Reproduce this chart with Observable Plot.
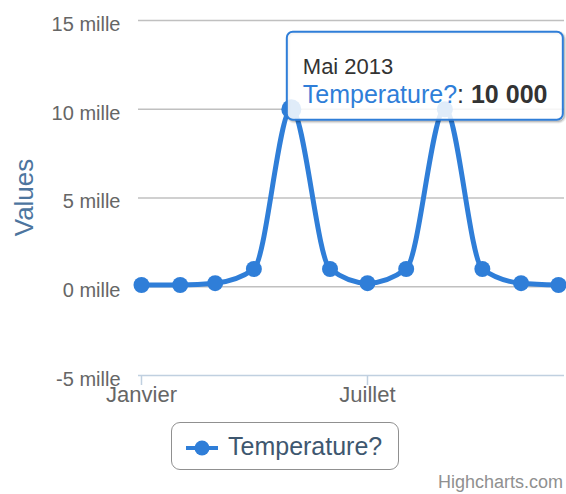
<!DOCTYPE html>
<html><head><meta charset="utf-8">
<script src="https://cdn.jsdelivr.net/npm/d3@7"></script>
<script src="https://cdn.jsdelivr.net/npm/@observablehq/plot@0.6"></script>
<style>
body{margin:0;background:#fff;font-family:"Liberation Sans",Arial,sans-serif;}
#wrap{position:relative;width:566px;height:494px;overflow:hidden;background:#fff;}
#wrap svg.plot{position:absolute;left:0;top:0;}
#legend{position:absolute;left:171px;top:422px;width:228px;height:48px;box-sizing:border-box;border:1.5px solid #909090;border-radius:9px;background:#fff;}
#legend svg{position:absolute;left:13px;top:16px;}
#legend span{position:absolute;left:56px;top:10px;font-size:25px;line-height:27px;color:#3e576f;white-space:nowrap;}
#credits{position:absolute;right:3px;top:473px;font-size:18px;line-height:18px;color:#909090;}
</style></head><body><div id="wrap"></div>
<script>
const months = ["2013-01-01","2013-02-01","2013-03-01","2013-04-01","2013-05-01","2013-06-01","2013-07-01","2013-08-01","2013-09-01","2013-10-01","2013-11-01","2013-12-01"];
const values = [100, 100, 200, 1000, 10000, 1000, 200, 1000, 10000, 1000, 200, 100];
const monthNames = ["Janvier","Février","Mars","Avril","Mai","Juin","Juillet","Août","Septembre","Octobre","Novembre","Décembre"];
const yTicks = [-5000, 0, 5000, 10000, 15000];
const xTickMonths = [0, 6];
const seriesName = "Temperature?";
const yTitle = "Values";
const hoverIndex = 4;
const credits = "Highcharts.com";

const color = "#2f7ed8";
const data = months.map((m, i) => ({date: new Date(m + "T00:00:00Z"), value: values[i]}));
const day = 864e5;
const xDomain = [new Date(+data[0].date - 2.4 * day), new Date(+data[data.length - 1].date + 4.8 * day)];
const fmtThousands = v => d3.format(",")(v).replace(/,/g, " ");

const plot = Plot.plot({
  width: 566, height: 410,
  marginTop: 20, marginBottom: 35, marginLeft: 138, marginRight: 2,
  style: {fontFamily: '"Liberation Sans", Arial, sans-serif', background: "white", overflow: "visible"},
  x: {type: "utc", domain: xDomain},
  y: {domain: [yTicks[0], yTicks[yTicks.length - 1]]},
  marks: [
    Plot.ruleY(yTicks.slice(1), {stroke: "#C0C0C0", strokeWidth: 1.5}),
    Plot.ruleY([yTicks[0]], {stroke: "#C0D0E0", strokeWidth: 1.5}),
    Plot.axisY({ticks: yTicks, tickSize: 0, tickPadding: 18, tickFormat: d => `${d / 1000} mille`,
      fontSize: 20, fill: "#666", dy: 4, label: null}),
    Plot.axisX({ticks: xTickMonths.map(i => data[i].date), tickFormat: d => monthNames[d.getUTCMonth()],
      tickSize: 10, stroke: "#C0D0E0", strokeWidth: 1.5, tickPadding: 1, fontSize: 22, fill: "#666", label: null}),
    Plot.line(data, {x: "date", y: "value", curve: "monotone-x", stroke: color, strokeWidth: 5}),
    Plot.dot(data, {x: "date", y: "value", r: 8, fill: color}),
    Plot.dot([data[hoverIndex]], {x: "date", y: "value", r: 10, fill: color})
  ]
});
plot.classList.add("plot");

const svg = d3.select(plot);
const sx = plot.scale("x"), sy = plot.scale("y");

// y axis title
svg.append("text")
  .attr("transform", `translate(33,${(sy.apply(yTicks[0]) + sy.apply(yTicks[yTicks.length - 1])) / 2}) rotate(-90)`)
  .attr("text-anchor", "middle")
  .attr("font-size", 26)
  .attr("fill", "#4d759e")
  .text(yTitle);

// tooltip
const hp = data[hoverIndex];
const px = sx.apply(hp.date), py = sy.apply(hp.value);
const bx = px - 4, by = py - 77, bw = 276, bh = 88;
const tg = svg.append("g").attr("text-anchor", "start");
[[5, 0.05], [3, 0.1], [1, 0.15]].forEach(([w, o]) => {
  tg.append("rect").attr("x", bx + 1.5).attr("y", by + 1.5).attr("width", bw).attr("height", bh)
    .attr("rx", 6).attr("fill", "none").attr("stroke", "black").attr("stroke-opacity", o).attr("stroke-width", w);
});
tg.append("rect").attr("x", bx).attr("y", by).attr("width", bw).attr("height", bh).attr("rx", 6)
  .attr("fill", "rgba(255,255,255,0.85)").attr("stroke", color).attr("stroke-width", 2);
tg.append("text").attr("x", bx + 16).attr("y", by + 42).attr("font-size", 22).attr("fill", "#333")
  .attr("text-anchor", "start")
  .text(`${monthNames[hp.date.getUTCMonth()]} ${hp.date.getUTCFullYear()}`);
const body = tg.append("text").attr("x", bx + 16).attr("y", by + 71).attr("font-size", 25).attr("fill", "#333")
  .attr("text-anchor", "start");
body.append("tspan").attr("fill", color).text(seriesName);
body.append("tspan").text(": ");
body.append("tspan").attr("font-weight", "bold").text(fmtThousands(hp.value));

const wrap = document.getElementById("wrap");
wrap.appendChild(plot);

// legend
const legend = document.createElement("div");
legend.id = "legend";
legend.innerHTML = `<svg width="34" height="18"><line x1="1" x2="33" y1="9" y2="9" stroke="${color}" stroke-width="4"/><circle cx="17" cy="9" r="7.5" fill="${color}"/></svg><span></span>`;
legend.querySelector("span").textContent = seriesName;
wrap.appendChild(legend);

const cr = document.createElement("div");
cr.id = "credits";
cr.textContent = credits;
wrap.appendChild(cr);
</script></body></html>
